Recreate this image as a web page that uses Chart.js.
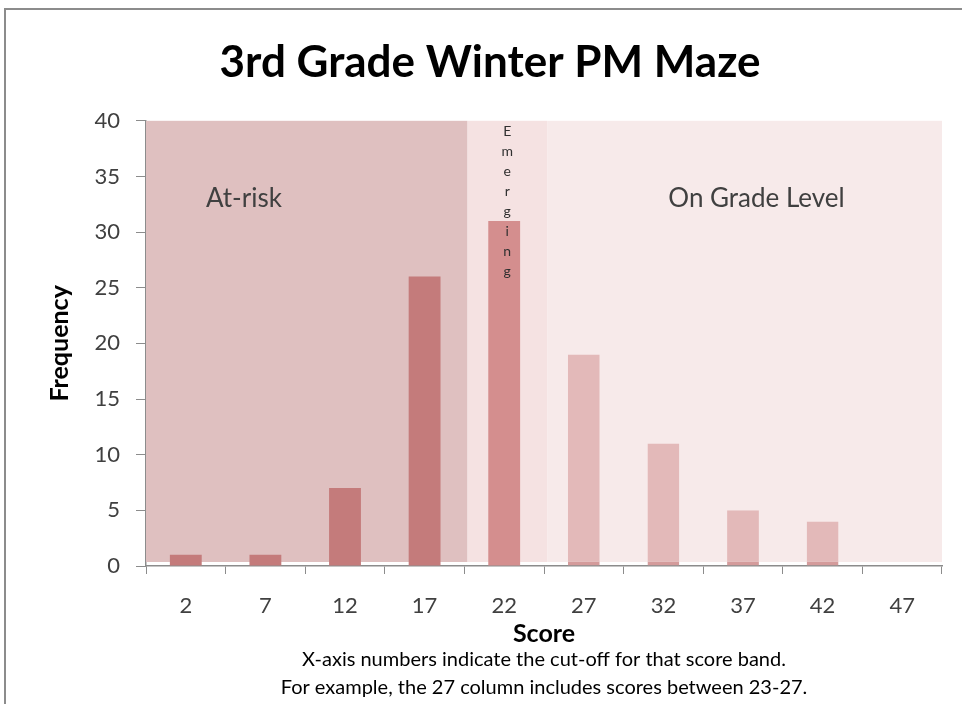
<!DOCTYPE html>
<html>
<head>
<meta charset="utf-8">
<script src="https://cdn.jsdelivr.net/npm/chart.js@4.4.0/dist/chart.umd.min.js"></script>
<style>
  html, body { margin: 0; padding: 0; background: #fff; overflow: hidden; }
  #wrap { position: relative; width: 962px; height: 704px; }
  #frame { position: absolute; left: 4px; top: 8px; width: 990px; height: 720px; border: 2px solid #8c8c8c; box-sizing: border-box; }
  canvas { position: absolute; left: 0; top: 0; }
</style>
</head>
<body>
<div id="wrap"><div id="frame"></div><canvas id="mazeChart" width="962" height="704"></canvas></div>
<script>
// chart data
const scores = ['2', '7', '12', '17', '22', '27', '32', '37', '42', '47'];
const frequency = [1, 1, 7, 26, 31, 19, 11, 5, 4, 0];

// score bands (category positions, boundaries sit just past the column edge)
const bandNames = ['At-risk', 'Emerging', 'On Grade Level'];
const bandStart = [0, 4.04, 5.04];
const bandEnd = [4.04, 5.04, 10];

const footnote = [
  'X-axis numbers indicate the cut-off for that score band.',
  'For example, the 27 column includes scores between 23-27.'
];

const bandFill = ['#dfc0c0', '#f5e2e2', '#f7eaea'];
const barFill = ['#c47b7b', '#d48e8e', '#e3b9b9'];
const FONT = 'Lato, "Open Sans", sans-serif';

function bandOf(i) {
  for (let b = 0; b < bandNames.length; b++) {
    if (i >= Math.floor(bandStart[b]) && i < Math.floor(bandEnd[b])) return b;
  }
  return bandNames.length - 1;
}

// background bands + labels
const bandPlugin = {
  id: 'bands',
  beforeDatasetsDraw(chart) {
    const { ctx, scales: { x, y } } = chart;
    const step = x.width / scores.length;
    const top = y.getPixelForValue(40);
    const bottom = y.getPixelForValue(0.36);
    ctx.save();
    bandNames.forEach((name, b) => {
      const x0 = x.left + bandStart[b] * step;
      const x1 = x.left + bandEnd[b] * step;
      ctx.fillStyle = bandFill[b];
      ctx.fillRect(x0, top, x1 - x0, bottom - top);
    });
    ctx.restore();
  },
  afterDatasetsDraw(chart) {
    const { ctx, scales: { x, y } } = chart;
    const step = x.width / scores.length;
    ctx.save();
    ctx.fillStyle = '#404040';
    ctx.textAlign = 'center';
    ctx.textBaseline = 'middle';
    ctx.font = '26px ' + FONT;
    ctx.fillText(bandNames[0], x.left + 1.23 * step, y.getPixelForValue(33));
    ctx.fillText(bandNames[2], x.left + 7.67 * step, y.getPixelForValue(33));
    // vertical "Emerging"
    ctx.font = '14px ' + FONT;
    ctx.fillStyle = '#303030';
    const cx = x.left + (4.5 * step) + 3;
    bandNames[1].split('').forEach((ch, k) => {
      ctx.fillText(ch, cx, y.getPixelForValue(39.0) + k * 20);
    });
    ctx.restore();
  },
  afterDraw(chart) {
    const { ctx, chartArea } = chart;
    ctx.save();
    ctx.fillStyle = '#000';
    ctx.textAlign = 'center';
    ctx.textBaseline = 'middle';
    ctx.font = '20px ' + FONT;
    const cx = (chartArea.left + chartArea.right) / 2;
    ctx.fillText(footnote[0], cx, 660);
    ctx.fillText(footnote[1], cx, 688);
    ctx.restore();
  }
};

new Chart(document.getElementById('mazeChart'), {
  type: 'bar',
  data: {
    labels: scores,
    datasets: [{
      label: 'Frequency',
      data: frequency,
      backgroundColor: ctx => barFill[bandOf(ctx.dataIndex)],
      borderColor: '#d49b9b',
      borderWidth: ctx => bandOf(ctx.dataIndex) === 2 ? { top: 0, left: 0, right: 0, bottom: 4 } : 0,
      borderSkipped: false,
      barPercentage: 0.4,
      categoryPercentage: 1.0
    }]
  },
  options: {
    responsive: false,
    animation: false,
    layout: { padding: { left: 38, right: 20, top: 0, bottom: 55 } },
    plugins: {
      legend: { display: false },
      tooltip: { enabled: false },
      title: {
        display: true,
        text: '3rd Grade Winter PM Maze',
        color: '#000',
        font: { family: FONT, size: 44, weight: 'bold', lineHeight: 1.2 },
        padding: { top: 36, bottom: 32 }
      }
    },
    scales: {
      x: {
        afterFit(scale) { scale.height = 83; },
        grid: { drawOnChartArea: false, color: '#8c8c8c', tickLength: 8, offset: true },
        border: { color: '#8c8c8c', width: 1.5 },
        ticks: { color: '#404040', font: { family: FONT, size: 22 }, padding: 19 },
        title: {
          display: true,
          text: 'Score',
          color: '#000',
          font: { family: FONT, size: 25, weight: 'bold', lineHeight: 1.2 },
          padding: { top: 0, bottom: 0 }
        }
      },
      y: {
        min: 0,
        max: 40,
        afterFit(scale) { scale.width = 108; },
        grid: { drawOnChartArea: false, color: '#8c8c8c', tickLength: 10 },
        border: { color: '#8c8c8c', width: 1.5 },
        ticks: { stepSize: 5, color: '#404040', font: { family: FONT, size: 22 }, padding: 16 },
        title: {
          display: true,
          text: 'Frequency',
          color: '#000',
          font: { family: FONT, size: 25, weight: 'bold', lineHeight: 1.2 },
          padding: { top: 7, bottom: 0 }
        }
      }
    }
  },
  plugins: [bandPlugin]
});
</script>
</body>
</html>
